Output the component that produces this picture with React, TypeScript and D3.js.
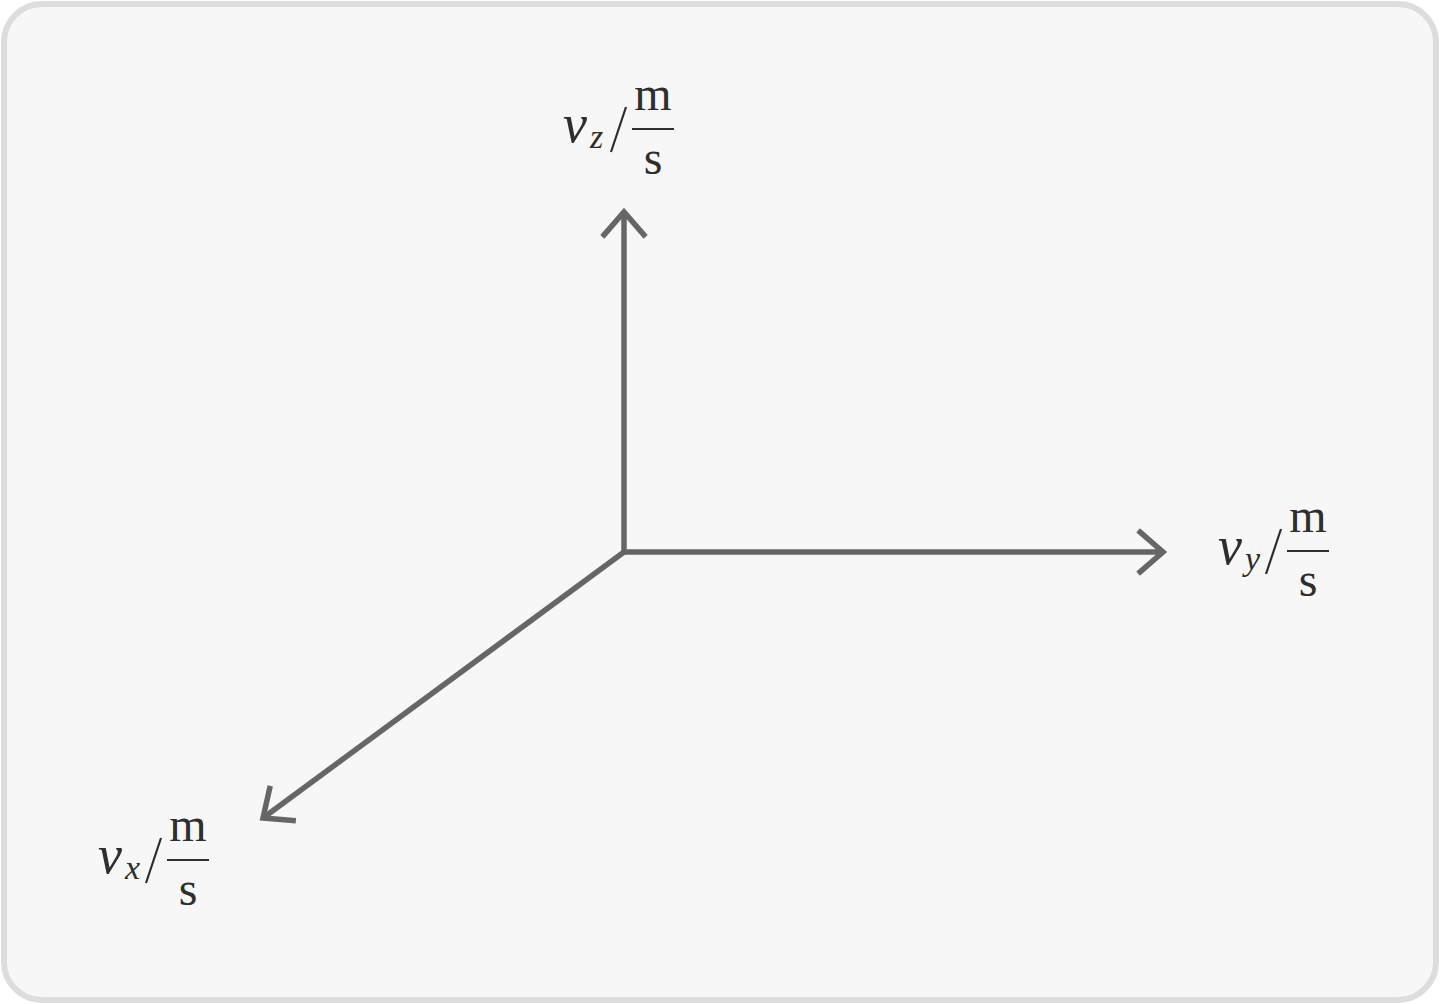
import React from 'react';
import * as d3 from 'd3';

// axes of the velocity space, each running from 0 to its extent
const axisKeys = ['x', 'y', 'z'];
const axisSubscripts = ['x', 'y', 'z'];
const axisExtent = [1, 1, 1];
const unitNumerator = ['m', 'm', 'm'];
const unitDenominator = ['s', 's', 's'];

const W = 1440;
const H = 1004;
const origin = { x: 624, y: 552 };

// oblique projection, one pair of scales per axis (screen x, screen y)
const proj: Record<string, { sx: d3.ScaleLinear<number, number>; sy: d3.ScaleLinear<number, number> }> = {
  x: {
    sx: d3.scaleLinear().domain([0, 1]).range([origin.x, 263]),
    sy: d3.scaleLinear().domain([0, 1]).range([origin.y, 818]),
  },
  y: {
    sx: d3.scaleLinear().domain([0, 1]).range([origin.x, 1163]),
    sy: d3.scaleLinear().domain([0, 1]).range([origin.y, origin.y]),
  },
  z: {
    sx: d3.scaleLinear().domain([0, 1]).range([origin.x, origin.x]),
    sy: d3.scaleLinear().domain([0, 1]).range([origin.y, 212]),
  },
};

// where the fraction bar of each label sits, relative to the arrow tip
const labelOffset: Record<string, [number, number]> = {
  x: [-75, 42],
  y: [145, -1],
  z: [29, -83],
};

const axisColor = '#666666';
const textColor = '#2e2e2e';
const serif = '"Liberation Serif", "Times New Roman", serif';

const Label: React.FC<{ cx: number; cy: number; sub: string; num: string; den: string }> = ({ cx, cy, sub, num, den }) => (
  <g fill={textColor} fontFamily={serif}>
    <text x={cx - 90} y={cy + 13} fontSize={54} fontStyle="italic">v</text>
    <text x={cx - 63} y={cy + 19} fontSize={34} fontStyle="italic">{sub}</text>
    {/* long thin solidus, as in the typeset original */}
    <line x1={cx - 27} y1={cy - 22} x2={cx - 42} y2={cy + 23} stroke={textColor} strokeWidth={2.2} />
    <line x1={cx - 21} x2={cx + 21} y1={cy} y2={cy} stroke={textColor} strokeWidth={2} />
    <text x={cx} y={cy - 19} fontSize={48} textAnchor="middle">{num}</text>
    <text x={cx} y={cy + 45} fontSize={48} textAnchor="middle">{den}</text>
  </g>
);

const App: React.FC = () => {
  const arm = 33;
  const spread = (41 * Math.PI) / 180;

  return (
    <svg width={W} height={H} viewBox={`0 0 ${W} ${H}`} style={{ position: 'absolute', left: 0, top: 0 }}>
      <rect x={4} y={4} width={W - 8} height={H - 8} rx={38} ry={38} fill="#f7f7f7" stroke="#dddddd" strokeWidth={6} />
      {axisKeys.map((k, i) => {
        const p = proj[k];
        const x0 = p.sx(0), y0 = p.sy(0);
        const x1 = p.sx(axisExtent[i]), y1 = p.sy(axisExtent[i]);
        const ang = Math.atan2(y1 - y0, x1 - x0);
        const w1 = [x1 - arm * Math.cos(ang - spread), y1 - arm * Math.sin(ang - spread)];
        const w2 = [x1 - arm * Math.cos(ang + spread), y1 - arm * Math.sin(ang + spread)];
        const line = d3.line();
        const [ox, oy] = labelOffset[k];
        return (
          <g key={k}>
            <path d={line([[x0, y0], [x1, y1]]) || ''} stroke={axisColor} strokeWidth={5.5} fill="none" />
            <path
              d={line([w1 as [number, number], [x1, y1], w2 as [number, number]]) || ''}
              stroke={axisColor}
              strokeWidth={5.5}
              fill="none"
              strokeLinejoin="miter"
            />
            <Label cx={x1 + ox} cy={y1 + oy} sub={axisSubscripts[i]} num={unitNumerator[i]} den={unitDenominator[i]} />
          </g>
        );
      })}
    </svg>
  );
};

export default App;
